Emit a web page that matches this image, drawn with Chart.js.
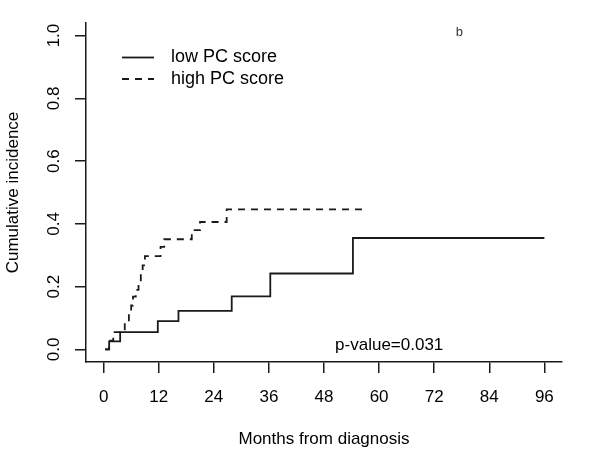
<!DOCTYPE html>
<html>
<head>
<meta charset="utf-8">
<script src="https://cdn.jsdelivr.net/npm/chart.js@4.4.0/dist/chart.umd.min.js"></script>
<style>
  html, body { margin: 0; padding: 0; background: #fff; }
  #wrap { width: 600px; height: 450px; }
</style>
</head>
<body>
<div id="wrap"><canvas id="incidenceChart" width="600" height="450"></canvas></div>
<script>
// Cumulative incidence step curves (months, value)
const lowTimes   = [0.3, 1.2, 3.6, 11.8, 16.3, 27.9, 36.3, 54.3, 96];
const lowCuminc  = [0, 0.026, 0.055, 0.090, 0.123, 0.169, 0.242, 0.355, 0.355];
const highTimes  = [0.3, 1.2, 2.1, 4.6, 5.5, 6.0, 6.4, 7.0, 7.6, 8.1, 8.5, 9.0, 12.4, 13.2, 19.2, 21.0, 26.8, 57.4];
const highCuminc = [0, 0.028, 0.055, 0.084, 0.112, 0.140, 0.168, 0.190, 0.210, 0.240, 0.268, 0.297, 0.327, 0.351, 0.380, 0.406, 0.446, 0.446];

const seriesNames = ['low PC score', 'high PC score'];
const xTicks = [0, 12, 24, 36, 48, 60, 72, 84, 96];
const yTicks = [0, 0.2, 0.4, 0.6, 0.8, 1.0];
const pValueText = 'p-value=0.031';
const panelTag = 'b';

const FONT = "'Liberation Sans', Arial, sans-serif";
const INK = '#1a1a1a';

const toPoints = (xs, ys) => xs.map((x, i) => ({ x: x, y: ys[i] }));

// legend + p-value + panel letter
const annotations = {
    id: 'annotations',
    afterDraw(chart) {
        const c = chart.ctx;
        const xs = chart.scales.x, ys = chart.scales.y;
        const area = chart.chartArea;
        c.save();

        // legend
        const lx = area.left + 36, rows = [area.top + 34.5, area.top + 56];
        chart.data.datasets.forEach((ds, i) => {
            c.beginPath();
            c.setLineDash(ds.borderDash || []);
            c.strokeStyle = ds.borderColor;
            c.lineWidth = ds.borderWidth;
            c.moveTo(lx, rows[i]);
            c.lineTo(lx + 32, rows[i]);
            c.stroke();
            c.setLineDash([]);
            c.fillStyle = '#000';
            c.font = '18px ' + FONT;
            c.textAlign = 'left';
            c.textBaseline = 'middle';
            c.fillText(ds.label, lx + 49, rows[i]);
        });

        // p-value
        c.font = '17px ' + FONT;
        c.textAlign = 'center';
        c.fillText(pValueText, xs.getPixelForValue(62.2), ys.getPixelForValue(0.014));

        // panel letter
        c.fillStyle = '#333';
        c.font = "13px 'Liberation Mono', 'Courier New', monospace";
        c.fillText(panelTag, xs.getPixelForValue(77.5), ys.getPixelForValue(1.01));
        c.restore();
    }
};

const axisCommon = {
    type: 'linear',
    border: { display: true, color: INK, width: 1.5 },
    grid: { display: true, drawOnChartArea: false, drawTicks: true, tickLength: 11, color: INK, lineWidth: 1.5 }
};

new Chart(document.getElementById('incidenceChart').getContext('2d'), {
    type: 'line',
    data: {
        datasets: [
            {
                label: seriesNames[0],
                data: toPoints(lowTimes, lowCuminc),
                stepped: true,
                borderColor: INK,
                borderWidth: 1.8,
                pointRadius: 0,
                fill: false
            },
            {
                label: seriesNames[1],
                data: toPoints(highTimes, highCuminc),
                stepped: true,
                borderColor: INK,
                borderWidth: 1.8,
                borderDash: [7, 6],
                pointRadius: 0,
                fill: false
            }
        ]
    },
    options: {
        responsive: false,
        animation: false,
        layout: { padding: { top: 23, right: 38, left: 0, bottom: 0 } },
        plugins: {
            legend: { display: false },
            tooltip: { enabled: false }
        },
        scales: {
            x: {
                ...axisCommon,
                min: -3.84,
                max: 99.84,
                afterBuildTicks: s => { s.ticks = xTicks.map(v => ({ value: v })); },
                afterFit: s => { s.height = 88; },
                ticks: {
                    color: '#000',
                    font: { family: FONT, size: 17 },
                    padding: 14,
                    maxRotation: 0,
                    autoSkip: false
                },
                title: {
                    display: true,
                    text: 'Months from diagnosis',
                    color: '#000',
                    font: { family: FONT, size: 17 },
                    padding: { top: 0, bottom: 0 }
                }
            },
            y: {
                ...axisCommon,
                min: -0.04,
                max: 1.04,
                afterBuildTicks: s => { s.ticks = yTicks.map(v => ({ value: v })); },
                afterFit: s => { s.width = 86; },
                ticks: {
                    color: '#000',
                    font: { family: FONT, size: 17 },
                    minRotation: 90,
                    maxRotation: 90,
                    crossAlign: 'center',
                    padding: 9,
                    autoSkip: false,
                    callback: v => v.toFixed(1)
                },
                title: {
                    display: true,
                    text: 'Cumulative incidence',
                    color: '#000',
                    font: { family: FONT, size: 17 },
                    padding: { top: 3, bottom: 0 }
                }
            }
        }
    },
    plugins: [annotations]
});
</script>
</body>
</html>
